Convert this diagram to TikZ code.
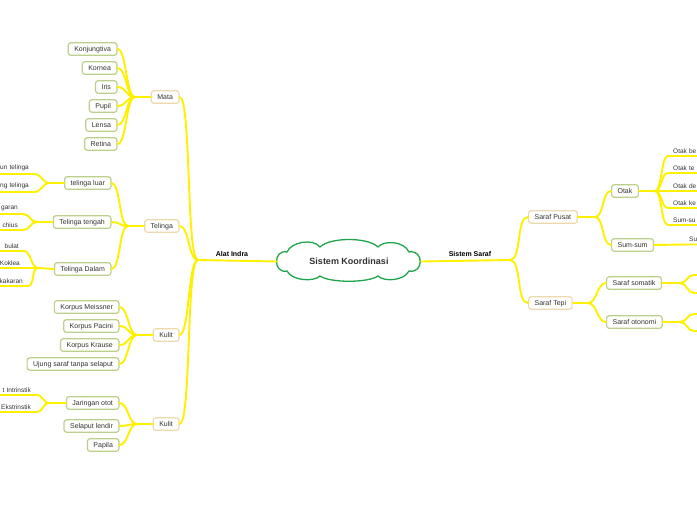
\documentclass[tikz,border=0pt]{standalone}
\usepackage{fontspec}
\setmainfont{Liberation Sans}
\definecolor{yel}{HTML}{FFF000}
\definecolor{tantwo}{HTML}{EDD9AE}
\definecolor{grnthree}{HTML}{BCCF8C}
\definecolor{cloudg}{HTML}{1FA64A}
\definecolor{txt}{HTML}{333333}
\tikzset{
 conn/.style={draw=yel, line width=1.9pt, line cap=round},
 lvtwo/.style={draw=tantwo, fill=white, line width=1.2pt, rounded corners=2.5pt, inner xsep=6pt, inner ysep=0pt, minimum height=12.5pt, text height=5.8pt, text depth=1.0pt, font=\fontsize{7}{8}\selectfont, text=txt},
 lvthree/.style={lvtwo, draw=grnthree},
 leafL/.style={anchor=south east, text width=70pt, align=right, inner xsep=5pt, inner ysep=2.5pt, font=\fontsize{6.5}{7.5}\selectfont, text=txt},
 leafR/.style={leafL, anchor=south west, align=left},
 brlabel/.style={font=\bfseries\fontsize{7}{8}\selectfont, text=black},
 cloudline/.style={draw=cloudg, line width=1.3pt, fill=white},
}
\newcommand\cnx[3]{\draw[conn] (#1) .. controls +(#3,0) and +(-#3,0) .. (#2);}
\newcommand\leafl[3]{\draw[conn] (#1.south west) -- (#1.south east) .. controls +(#3,0) and +(-#3,0) .. (#2);}
\newcommand\leafr[3]{\draw[conn] (#2) .. controls +(#3,0) and +(-#3,0) .. (#1.south west) -- (#1.south east);}
\begin{document}
\begin{tikzpicture}[x=1pt,y=-1pt]
\useasboundingbox (0,0) rectangle (697,520);
% hubs
\coordinate (hL) at (198,260);
\coordinate (hR) at (510,260);
\coordinate (hM) at (135,97);
\coordinate (hTe) at (128,226);
\coordinate (hK1) at (137,335);
\coordinate (hK2) at (137,424);
\coordinate (hTL) at (50,183);
\coordinate (hTT) at (37,222);
\coordinate (hTD) at (38,268);
\coordinate (hJO) at (50,403);
\coordinate (hP) at (595,217);
\coordinate (hT) at (588,303);
\coordinate (hO) at (655,191);
\coordinate (hS) at (680,283);
\coordinate (hN) at (680,322);
\coordinate (sa1) at (694,275);
\coordinate (sa1e) at (712,275);
\coordinate (sa2) at (694,293);
\coordinate (sa2e) at (712,293);
\coordinate (so1) at (694,314);
\coordinate (so1e) at (712,314);
\coordinate (so2) at (694,331);
\coordinate (so2e) at (712,331);

% root cloud
\path[cloudline] (287,252)
  .. controls (291,242) and (313,238) .. (320,247)
  .. controls (330,237) and (368,237) .. (378,247)
  .. controls (384,240) and (404,241) .. (409,252)
  .. controls (424,249) and (424,274) .. (409,271)
  .. controls (404,281) and (384,282) .. (378,276)
  .. controls (368,283) and (330,283) .. (320,276)
  .. controls (314,282) and (292,281) .. (287,271)
  .. controls (273,274) and (273,249) .. cycle;
\node[minimum width=144pt, minimum height=38pt, inner sep=0pt, font=\bfseries\fontsize{9}{10}\selectfont, text=txt] (root) at (349,261.5) {Sistem Koordinasi};
\node[brlabel] (lai) at (232,254) {Alat Indra};
\node[brlabel] (lss) at (470,254) {Sistem Saraf};

% level 2 left
\node[lvtwo, anchor=east] (mata) at (179.5,97) {Mata};
\node[lvtwo, anchor=east] (telinga) at (179.5,226) {Telinga};
\node[lvtwo, anchor=east] (kulit1) at (179.5,335) {Kulit};
\node[lvtwo, anchor=east] (kulit2) at (179.5,424) {Kulit};

% Mata children
\node[lvthree, anchor=east] (m1) at (117.5,49) {Konjungtiva};
\node[lvthree, anchor=east] (m2) at (117.5,68) {Kornea};
\node[lvthree, anchor=east] (m3) at (117.5,87) {Iris};
\node[lvthree, anchor=east] (m4) at (117.5,106) {Pupil};
\node[lvthree, anchor=east] (m5) at (117.5,125) {Lensa};
\node[lvthree, anchor=east] (m6) at (117.5,144) {Retina};

% Telinga children
\node[lvthree, anchor=east] (t1) at (111.5,183) {telinga luar};
\node[lvthree, anchor=east] (t2) at (111.5,222) {Telinga tengah};
\node[lvthree, anchor=east] (t3) at (111.5,269) {Telinga Dalam};

% Kulit 1 children
\node[lvthree, anchor=east] (k1) at (119.5,307) {Korpus Meissner};
\node[lvthree, anchor=east] (k2) at (119.5,326) {Korpus Pacini};
\node[lvthree, anchor=east] (k3) at (119.5,345) {Korpus Krause};
\node[lvthree, anchor=east] (k4) at (119.5,364) {Ujung saraf tanpa selaput};

% Kulit 2 children
\node[lvthree, anchor=east] (j1) at (119.5,403) {Jaringan otot};
\node[lvthree, anchor=east] (j2) at (119.5,426) {Selaput lendir};
\node[lvthree, anchor=east] (j3) at (119.5,445) {Papila};

% leaves left
\node[leafL] (tl1) at (34,174) {un telinga};
\node[leafL] (tl2) at (34,192) {ng telinga};
\node[leafL] (tt1) at (23,214) {garan};
\node[leafL] (tt2) at (23,230) {chius};
\node[leafL] (td1) at (24,251) {bulat};
\node[leafL] (td2) at (25,268) {Koklea};
\node[leafL] (td3) at (28,286) {kakaran};
\node[leafL] (jo1) at (36,395) {t Intrinstik};
\node[leafL] (jo2) at (36,412) {Ekstrinstik};

% right side
\node[lvtwo, anchor=west] (pusat) at (528,217) {Saraf Pusat};
\node[lvtwo, anchor=west] (tepi) at (528,303) {Saraf Tepi};
\node[lvthree, anchor=west] (otak) at (611,191) {Otak};
\node[lvthree, anchor=west] (sumsum) at (611,245) {Sum-sum};
\node[lvthree, anchor=west] (som) at (606,283) {Saraf somatik};
\node[lvthree, anchor=west] (oto) at (606,322) {Saraf otonomi};
\node[leafR] (o1) at (668,156) {Otak be};
\node[leafR] (o2) at (668,173) {Otak te};
\node[leafR] (o3) at (668,191) {Otak de};
\node[leafR] (o4) at (668,208) {Otak ke};
\node[leafR] (o5) at (668,225) {Sum-su};
\node[leafR] (ss1) at (684,244.5) {Su};

% connectors
\draw[conn] (root.west) -- (hL);
\draw[conn] (root.east) -- (hR);
\cnx{mata.east}{hL}{12}
\cnx{telinga.east}{hL}{10}
\cnx{kulit1.east}{hL}{10}
\cnx{kulit2.east}{hL}{12}
\draw[conn] (hM) -- (mata.west);
\foreach \c in {m1,m2,m3,m4,m5,m6} {\cnx{\c.east}{hM}{9}}
\draw[conn] (hTe) -- (telinga.west);
\foreach \c in {t1,t2,t3} {\cnx{\c.east}{hTe}{9}}
\draw[conn] (hK1) -- (kulit1.west);
\foreach \c in {k1,k2,k3,k4} {\cnx{\c.east}{hK1}{9}}
\draw[conn] (hK2) -- (kulit2.west);
\foreach \c in {j1,j2,j3} {\cnx{\c.east}{hK2}{9}}
\draw[conn] (hTL) -- (t1.west);
\leafl{tl1}{hTL}{8}
\leafl{tl2}{hTL}{8}
\draw[conn] (hTT) -- (t2.west);
\leafl{tt1}{hTT}{7}
\leafl{tt2}{hTT}{7}
\draw[conn] (hTD) -- (t3.west);
\leafl{td1}{hTD}{7}
\leafl{td2}{hTD}{7}
\leafl{td3}{hTD}{7}
\draw[conn] (hJO) -- (j1.west);
\leafl{jo1}{hJO}{8}
\leafl{jo2}{hJO}{8}
% right
\cnx{hR}{pusat.west}{12}
\cnx{hR}{tepi.west}{12}
\draw[conn] (pusat.east) -- (hP);
\cnx{hP}{otak.west}{9}
\cnx{hP}{sumsum.west}{9}
\draw[conn] (tepi.east) -- (hT);
\cnx{hT}{som.west}{9}
\cnx{hT}{oto.west}{9}
\draw[conn] (otak.east) -- (hO);
\foreach \c in {o1,o2,o3,o4,o5} {\leafr{\c}{hO}{7}}
\draw[conn] (sumsum.east) -- (ss1.south west) -- (ss1.south east);
\draw[conn] (som.east) -- (hS);
\cnx{hS}{sa1}{7}
\cnx{hS}{sa2}{7}
\draw[conn] (sa1) -- (sa1e);
\draw[conn] (sa2) -- (sa2e);
\draw[conn] (oto.east) -- (hN);
\cnx{hN}{so1}{7}
\cnx{hN}{so2}{7}
\draw[conn] (so1) -- (so1e);
\draw[conn] (so2) -- (so2e);
\end{tikzpicture}
\end{document}
